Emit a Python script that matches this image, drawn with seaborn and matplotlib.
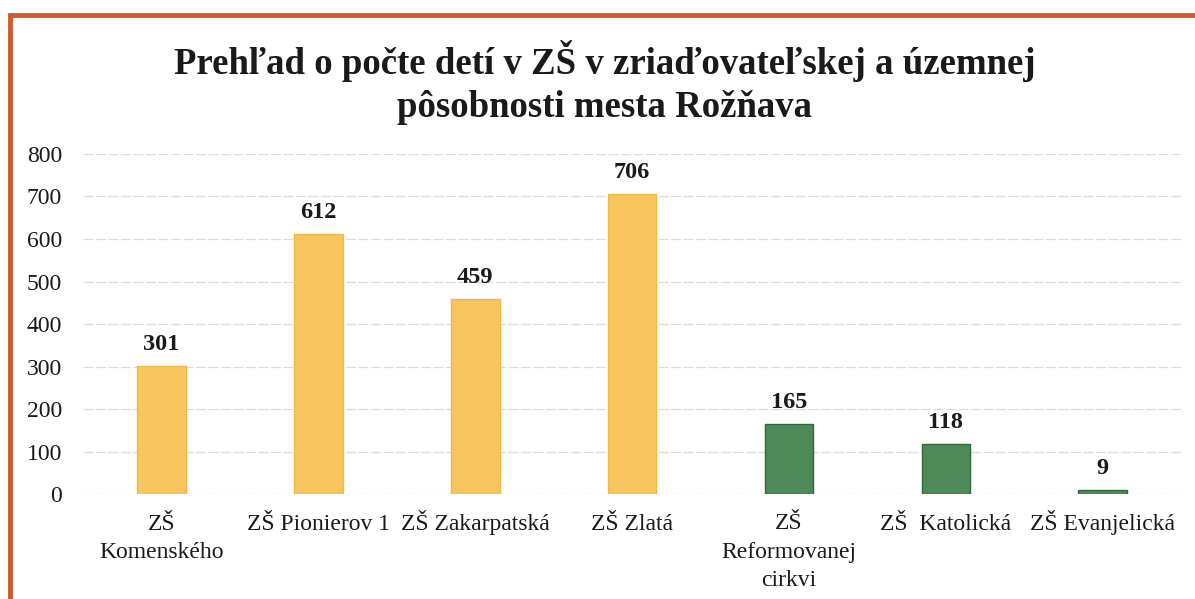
import matplotlib
matplotlib.use("Agg")
import matplotlib.pyplot as plt
import matplotlib.transforms as mtransforms
import seaborn as sns
import pandas as pd
from matplotlib.lines import Line2D

categories = ["ZŠ\nKomenského", "ZŠ Pionierov 1", "ZŠ Zakarpatská", "ZŠ Zlatá",
              "ZŠ\nReformovanej\ncirkvi", "ZŠ  Katolická", "ZŠ Evanjelická"]
values = [301, 612, 459, 706, 165, 118, 9]
groups = ["mesto", "mesto", "mesto", "mesto", "cirkev", "cirkev", "cirkev"]
yticks = [0, 100, 200, 300, 400, 500, 600, 700, 800]
title = "Prehľad o počte detí v ZŠ v zriaďovateľskej a územnej\npôsobnosti mesta Rožňava"

group_colors = {"mesto": "#F9C55E", "cirkev": "#4E8A57"}
edge_colors = {"mesto": "#F2B843", "cirkev": "#2F6A3A"}

sns.set_theme(style="white")
plt.rcParams["font.family"] = ["Liberation Serif", "DejaVu Serif"]

df = pd.DataFrame({"skola": categories, "pocet": values, "skupina": groups})

fig = plt.figure(figsize=(11.95, 5.99), dpi=100)
ax = fig.add_axes([0.0695, 0.175, 0.919, 0.568])

sns.barplot(data=df, x="skola", y="pocet", hue="skola",
            palette=[group_colors[g] for g in groups], saturation=1,
            legend=False, width=0.31, ax=ax, zorder=3)

for patch, g in zip(ax.patches, groups):
    patch.set_edgecolor(edge_colors[g])
    patch.set_linewidth(1.0)

for cont in ax.containers:
    ax.bar_label(cont, fmt="%d", padding=8, fontsize=17.5, fontweight="bold",
                 color="#1a1a1a")

ax.set_ylim(0, 800)
ax.set_yticks(yticks)
ax.set_yticklabels([str(t) for t in yticks], fontsize=17, color="#1a1a1a")
ax.tick_params(axis="y", length=0, pad=15)
ax.tick_params(axis="x", length=0, pad=26, labelsize=17, labelcolor="#1a1a1a")
line_gap_pt = 20.0
for lbl in ax.get_xticklabels():
    lbl.set_verticalalignment("baseline")
    lbl.set_linespacing(1.45)
    n = lbl.get_text().count("\n")
    if n:
        off = mtransforms.ScaledTranslation(0, -n * line_gap_pt / 72, fig.dpi_scale_trans)
        lbl.set_transform(lbl.get_transform() + off)
ax.set_xlabel("")
ax.set_ylabel("")
ax.grid(axis="y", color="#dcdcdc", linewidth=0.9, linestyle=(0, (8, 2)), zorder=0)
ax.set_axisbelow(True)
for s in ax.spines.values():
    s.set_visible(False)

fig.text(0.506, 1 - 82.5 / 599, title, ha="center", va="center", fontsize=26.5,
         fontweight="bold", color="#1a1a1a", linespacing=1.26)

# orange frame (left and top edges visible)
fig.add_artist(Line2D([10 / 1195, 10 / 1195], [0, 1 - 13 / 599],
                      transform=fig.transFigure, color="#CC5E2C", linewidth=3.5,
                      solid_capstyle="butt"))
fig.add_artist(Line2D([8 / 1195, 1], [1 - 15 / 599, 1 - 15 / 599],
                      transform=fig.transFigure, color="#CC5E2C", linewidth=3.5,
                      solid_capstyle="butt"))

fig.savefig("out.png", dpi=100)
